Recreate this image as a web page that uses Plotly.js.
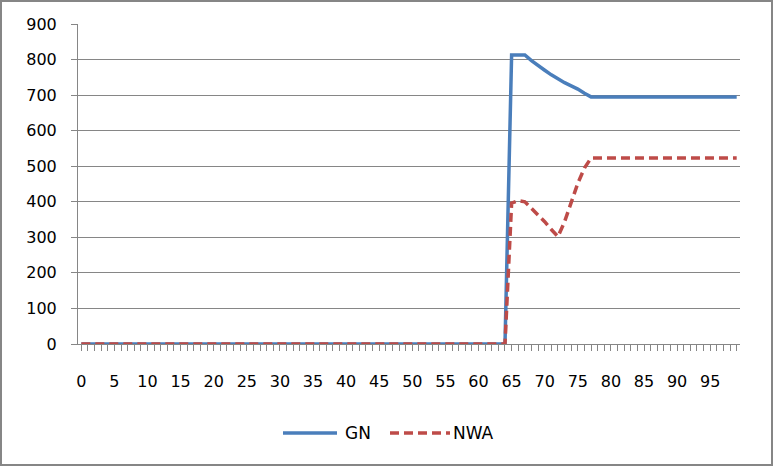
<!DOCTYPE html>
<html>
<head>
<meta charset="utf-8">
<script src="https://cdn.plot.ly/plotly-3.0.1.min.js"></script>
<style>html,body{margin:0;padding:0;background:#fff}#chart{width:773px;height:466px}</style>
</head>
<body>
<div id="chart"></div>
<script>
// categories 0..99
const categories = [];
for (let i = 0; i < 100; i++) categories.push(i);
const tickLabels = ["0","5","10","15","20","25","30","35","40","45","50","55","60","65","70","75","80","85","90","95"];
const tickPositions = [0,5,10,15,20,25,30,35,40,45,50,55,60,65,70,75,80,85,90,95];
const seriesNames = ['GN', 'NWA'];

const gnValues = [
 0,0,0,0,0,0,0,0,0,0, 0,0,0,0,0,0,0,0,0,0,
 0,0,0,0,0,0,0,0,0,0, 0,0,0,0,0,0,0,0,0,0,
 0,0,0,0,0,0,0,0,0,0, 0,0,0,0,0,0,0,0,0,0,
 0,0,0,0,0,813,813,813,797,782, 770,757,745,735,726,717,705,695,695,695,
 695,695,695,695,695,695,695,695,695,695, 695,695,695,695,695,695,695,695,695,695
];
const nwaValues = [
 0,0,0,0,0,0,0,0,0,0, 0,0,0,0,0,0,0,0,0,0,
 0,0,0,0,0,0,0,0,0,0, 0,0,0,0,0,0,0,0,0,0,
 0,0,0,0,0,0,0,0,0,0, 0,0,0,0,0,0,0,0,0,0,
 0,0,0,0,0,396,403,400,382,363, 344,322,302,344,396,452,495,523,523,523,
 523,523,523,523,523,523,523,523,523,523, 523,523,523,523,523,523,523,523,523,523
];

const gnColor = '#4A7EBB', nwaColor = '#BE4B48';
const traces = [
 {x: categories, y: gnValues, name: seriesNames[0], type: 'scatter', mode: 'lines',
  line: {color: gnColor, width: 3.5}},
 {x: categories, y: nwaValues, name: seriesNames[1], type: 'scatter', mode: 'lines',
  line: {color: nwaColor, width: 3.5, dash: '9px,5px'}}
];

const W = 662, H = 320;
const px = v => (v - 78) / W;
const py = v => (344 - v) / H;
const legY = py(433);

const layout = {
  width: 773, height: 466,
  margin: {l: 78, r: 33, t: 24, b: 122},
  paper_bgcolor: '#fff', plot_bgcolor: '#fff',
  font: {family: 'DejaVu Sans, sans-serif', size: 16, color: '#000'},
  showlegend: false,
  xaxis: {
    range: [-0.5, 99.5], tickmode: 'array', tickvals: tickPositions, ticktext: tickLabels,
    showgrid: false, zeroline: false, showline: true, linecolor: '#868686', linewidth: 1,
    ticks: 'outside', ticklen: 6, tickcolor: '#868686', ticklabelstandoff: 17,
    minor: {dtick: 1, tick0: 0, ticks: 'outside', ticklen: 6, tickcolor: '#868686', showgrid: false}
  },
  yaxis: {
    range: [0, 900], dtick: 100, tick0: 0,
    showgrid: true, gridcolor: '#868686', gridwidth: 1, zeroline: false,
    showline: true, linecolor: '#868686', linewidth: 1,
    ticks: 'outside', ticklen: 6, tickcolor: '#868686', ticklabelstandoff: 11
  },
  shapes: [
    {type: 'rect', xref: 'paper', yref: 'paper',
     x0: px(1), x1: px(772), y0: py(465), y1: py(1),
     line: {color: '#868686', width: 2}, fillcolor: 'rgba(0,0,0,0)'},
    {type: 'line', xref: 'paper', yref: 'paper', x0: px(283), x1: px(337), y0: legY, y1: legY,
     line: {color: gnColor, width: 3.5}},
    {type: 'line', xref: 'paper', yref: 'paper', x0: px(390), x1: px(450), y0: legY, y1: legY,
     line: {color: nwaColor, width: 3.5, dash: '9px,5px'}}
  ],
  annotations: [
    {xref: 'paper', yref: 'paper', x: px(343), y: legY, xanchor: 'left', yanchor: 'middle',
     text: seriesNames[0], showarrow: false, font: {size: 17}},
    {xref: 'paper', yref: 'paper', x: px(451), y: legY, xanchor: 'left', yanchor: 'middle',
     text: seriesNames[1], showarrow: false, font: {size: 17}}
  ]
};

Plotly.newPlot('chart', traces, layout, {displayModeBar: false, staticPlot: true});
</script>
</body>
</html>
